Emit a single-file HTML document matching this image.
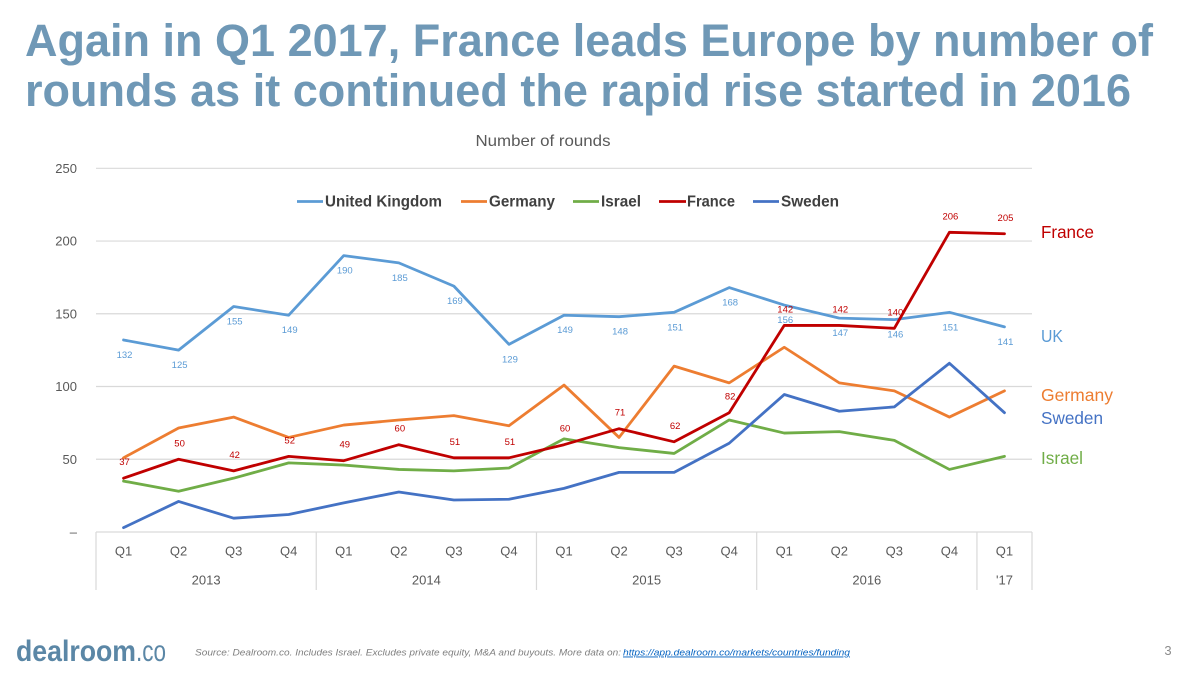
<!DOCTYPE html>
<html lang="en">
<head>
<meta charset="utf-8">
<title>France leads Europe by number of rounds</title>
<style>
html,body{margin:0;padding:0;background:#fff;width:1200px;height:675px;overflow:hidden}
svg{display:block;font-family:"Liberation Sans",Arial,sans-serif}
</style>
</head>
<body>
<svg id="slide" width="1200" height="675" viewBox="0 0 1200 675" xmlns="http://www.w3.org/2000/svg">
  <rect width="1200" height="675" fill="#ffffff"/>
  <g font-weight="700" font-size="45" fill="#6f98b6">
    <text x="25" y="56" textLength="1128" lengthAdjust="spacingAndGlyphs">Again in Q1 2017, France leads Europe by number of</text>
    <text x="25" y="106" textLength="1106" lengthAdjust="spacingAndGlyphs">rounds as it continued the rapid rise started in 2016</text>
  </g>
  <text x="543" y="146" text-anchor="middle" font-size="16" fill="#595959" textLength="135" lengthAdjust="spacingAndGlyphs">Number of rounds</text>
  <g id="chart"></g>
  <g font-size="15.500" font-weight="700" fill="#404040">
    <g><line x1="297" x2="323" y1="201.500" y2="201.500" stroke="#5b9bd5" stroke-width="2.800"/><text x="325" y="206.500" textLength="117" lengthAdjust="spacingAndGlyphs">United Kingdom</text></g>
    <g><line x1="461" x2="487" y1="201.500" y2="201.500" stroke="#ed7d31" stroke-width="2.800"/><text x="489" y="206.500" textLength="66" lengthAdjust="spacingAndGlyphs">Germany</text></g>
    <g><line x1="573" x2="599" y1="201.500" y2="201.500" stroke="#70ad47" stroke-width="2.800"/><text x="601" y="206.500" textLength="40" lengthAdjust="spacingAndGlyphs">Israel</text></g>
    <g><line x1="659" x2="686" y1="201.500" y2="201.500" stroke="#c00000" stroke-width="2.800"/><text x="687" y="206.500" textLength="48" lengthAdjust="spacingAndGlyphs">France</text></g>
    <g><line x1="753" x2="779" y1="201.500" y2="201.500" stroke="#4472c4" stroke-width="2.800"/><text x="781" y="206.500" textLength="58" lengthAdjust="spacingAndGlyphs">Sweden</text></g>
  </g>
  <g font-size="17.500">
    <text x="1041" y="238" fill="#c00000" textLength="53" lengthAdjust="spacingAndGlyphs">France</text>
    <text x="1041" y="342" fill="#5b9bd5" textLength="22" lengthAdjust="spacingAndGlyphs">UK</text>
    <text x="1041" y="401" fill="#ed7d31" textLength="72" lengthAdjust="spacingAndGlyphs">Germany</text>
    <text x="1041" y="424" fill="#4472c4" textLength="62" lengthAdjust="spacingAndGlyphs">Sweden</text>
    <text x="1041" y="464" fill="#70ad47" textLength="42" lengthAdjust="spacingAndGlyphs">Israel</text>
  </g>
  <g fill="#5b87a6">
    <text x="16" y="661" font-size="30" font-weight="700" textLength="120" lengthAdjust="spacingAndGlyphs">dealroom</text>
    <text x="136" y="661" font-size="30" textLength="30" lengthAdjust="spacingAndGlyphs">.co</text>
  </g>
  <text x="195" y="655.500" font-size="9.200" font-style="italic" fill="#7f7f7f" textLength="426" lengthAdjust="spacingAndGlyphs">Source: Dealroom.co. Includes Israel. Excludes private equity, M&amp;A and buyouts. More data on:</text>
  <text x="623" y="655.500" font-size="9.200" font-style="italic" fill="#0563c1" text-decoration="underline" textLength="227" lengthAdjust="spacingAndGlyphs">https://app.dealroom.co/markets/countries/funding</text>
  <text x="1168" y="655" text-anchor="middle" font-size="13" fill="#8c8c8c">3</text>
</svg>
<script>
const quarters = ['Q1','Q2','Q3','Q4','Q1','Q2','Q3','Q4','Q1','Q2','Q3','Q4','Q1','Q2','Q3','Q4','Q1'];
const years = ['2013','2014','2015','2016',"'17"];
const quartersPerYear = [4,4,4,4,1];
const yTicks = [0,50,100,150,200,250];
const yTickLabels = ['–','50','100','150','200','250'];
const unitedKingdom = [132,125,155,149,190,185,169,129,149,148,151,168,156,147,146,151,141];
const germany = [51,71.5,79,65,73.5,77,80,73,101,65,114,102.5,127,102.5,97,79,97];
const israel = [35,28,37,47.5,46,43,42,44,64,58,54,77,68,69,63,43,52];
const france = [37,50,42,52,49,60,51,51,60,71,62,82,142,142,140,206,205];
const sweden = [3,21,9.5,12,20,27.5,22,22.5,30,41,41,61,94.5,83,86,116,82];

const NS = 'http://www.w3.org/2000/svg';
const chart = document.getElementById('chart');
const plotLeft = 96, plotRight = 1032, plotTop = 168.3, plotBottom = 532, axisBottom = 590, yMax = 250;
const band = (plotRight - plotLeft) / quarters.length;
function xScale(i){ return plotLeft + band * (i + 0.5); }
function yScale(v){ return plotBottom - (v / yMax) * (plotBottom - plotTop); }
function make(tag, attrs, text){
  const el = document.createElementNS(NS, tag);
  for (const k in attrs) el.setAttribute(k, attrs[k]);
  if (text !== undefined) el.textContent = text;
  chart.appendChild(el);
  return el;
}

yTicks.forEach(function(v, i){
  const grid = make('line', {x1: plotLeft, x2: plotRight, y1: yScale(v), y2: yScale(v), stroke: '#d9d9d9', 'stroke-width': 1.2});
  
  
  const tick = make('text', {x: 77, y: yScale(v) + 4.500, 'text-anchor': 'end', 'font-size': 13, fill: '#595959'}, yTickLabels[i]);
  
  
});

quarters.forEach(function(q, i){
  const label = make('text', {x: xScale(i), y: 555.5, 'text-anchor': 'middle', 'font-size': 13, fill: '#595959'}, q);
  
  
});

let startIndex = 0;
function yearDivider(i){
  const div = make('line', {x1: plotLeft + band * i, x2: plotLeft + band * i, y1: plotBottom, y2: axisBottom, stroke: '#d9d9d9', 'stroke-width': 1.2});
  
  
}
yearDivider(0);
years.forEach(function(y, i){
  const count = quartersPerYear[i];
  const label = make('text', {x: plotLeft + band * (startIndex + count / 2), y: 584.5, 'text-anchor': 'middle', 'font-size': 13, fill: '#595959'}, y);
  
  
  startIndex += count;
  yearDivider(startIndex);
});

function drawLine(values, color, name){
  const d = values.map(function(v, i){ return (i ? 'L' : 'M') + xScale(i).toFixed(2) + ' ' + yScale(v).toFixed(2); }).join(' ');
  const path = make('path', {d: d, fill: 'none', stroke: color, 'stroke-width': 2.800, 'stroke-linejoin': 'round', 'stroke-linecap': 'round'});
  
  
}
function drawLabels(values, color, offset, name){
  values.forEach(function(v, i){
    const t = make('text', {x: xScale(i) + 1, y: yScale(v) + offset, 'text-anchor': 'middle', 'font-size': 9.5, fill: color}, String(v));
    
    
  });
}

drawLine(unitedKingdom, '#5b9bd5', 'series-united-kingdom');
drawLine(germany, '#ed7d31', 'series-germany');
drawLine(israel, '#70ad47', 'series-israel');
drawLine(france, '#c00000', 'series-france');
drawLine(sweden, '#4472c4', 'series-sweden');
drawLabels(unitedKingdom, '#5b9bd5', 18, 'data-label-united-kingdom');
drawLabels(france, '#c00000', -13, 'data-label-france');
</script>
</body>
</html>
